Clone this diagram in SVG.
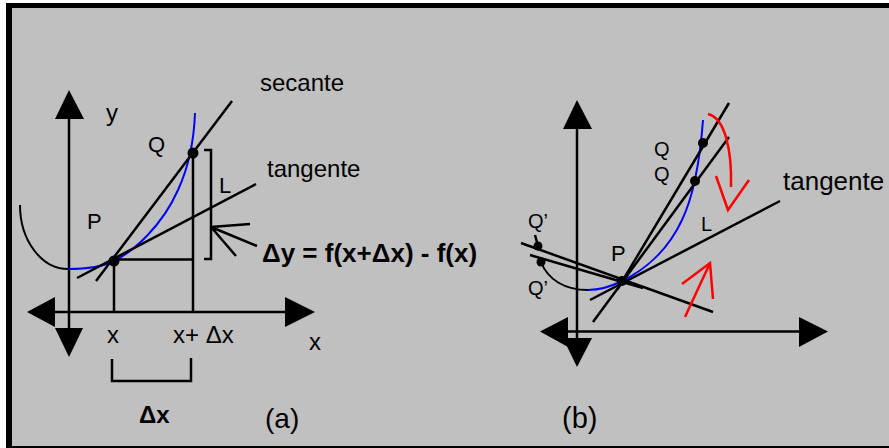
<svg xmlns="http://www.w3.org/2000/svg" width="889" height="448" viewBox="0 0 889 448">
<style>
.ln{fill:none;stroke:#000;stroke-width:2.5;stroke-linecap:butt}
.ax{fill:none;stroke:#000;stroke-width:2.5}
.hd{fill:#000;stroke:none}
.cv{fill:none;stroke:#0000ff;stroke-width:2}
.bk{fill:none;stroke:#000;stroke-width:2}
.rd{fill:none;stroke:#ff0000;stroke-width:2.5;stroke-linecap:butt;stroke-linejoin:miter}
.dot{fill:#000}
.t{font-family:"Liberation Sans",Arial,sans-serif;fill:#000}
.b{font-weight:bold}
</style>
<rect x="0" y="0" width="889" height="448" fill="#fff"/>
<rect x="6" y="3" width="900" height="445" fill="#000"/>
<rect x="12" y="8" width="890" height="438" fill="#c0c0c0"/>

<g id="panel-a">
  <g id="axes-a">
    <line class="ax" x1="69" y1="118" x2="69" y2="330"/>
    <polygon class="hd" points="69,90 55,119 84,119"/>
    <polygon class="hd" points="55,328 83,328 69,357"/>
    <line class="ax" x1="54" y1="312" x2="286" y2="312"/>
    <polygon class="hd" points="27,312 55,297 55,327"/>
    <polygon class="hd" points="315,312 285,297 285,327"/>
  </g>
  <g id="curve-a">
    <path class="bk" d="M20,205 A48,64 0 0 0 68,269"/>
    <path class="cv" d="M68,269 C90,269 104,266 114,261 C134,251 162,226 178,190 C190,164 194,140 195,113"/>
  </g>
  <g id="connectors-a">
    <line class="ln" x1="96" y1="281" x2="232" y2="101"/>
    <line class="ln" x1="77" y1="278" x2="256" y2="184"/>
    <line class="ln" x1="193" y1="153" x2="193" y2="313"/>
    <line class="ln" x1="114" y1="261" x2="114" y2="313"/>
    <line class="ln" x1="114" y1="259.5" x2="194" y2="259.5"/>
    <path class="ln" d="M204,150 H211 V259 H204"/>
    <path class="ln" d="M250,224 L211,227 L257,246 M211,227 L236,256"/>
    <path class="ln" d="M112,359 V381 H191 V358"/>
  </g>
  <g id="node-P-a"><circle class="dot" cx="114" cy="261" r="5.5"/></g>
  <g id="node-Q-a"><circle class="dot" cx="193" cy="153" r="5.5"/></g>
  <g id="labels-a">
    <text class="t" x="260" y="91" font-size="24">secante</text>
    <text class="t" x="267" y="177" font-size="24">tangente</text>
    <text class="t" x="106" y="121" font-size="24">y</text>
    <text class="t" x="148" y="152" font-size="22">Q</text>
    <text class="t" x="219" y="193" font-size="22">L</text>
    <text class="t" x="87" y="229" font-size="22">P</text>
    <text class="t b" x="262" y="262" font-size="26">Δy = f(x+Δx) - f(x)</text>
    <text class="t" x="107" y="343" font-size="24">x</text>
    <text class="t" x="173" y="343" font-size="24">x+ Δx</text>
    <text class="t" x="309" y="350" font-size="24">x</text>
    <text class="t b" x="139" y="423" font-size="24">Δx</text>
    <text class="t" x="265" y="428" font-size="28">(a)</text>
  </g>
</g>

<g id="panel-b">
  <g id="axes-b">
    <line class="ax" x1="577" y1="127" x2="577" y2="340"/>
    <polygon class="hd" points="577,100 563,129 592,129"/>
    <polygon class="hd" points="563,338 592,338 577,367"/>
    <line class="ax" x1="567" y1="331.5" x2="800" y2="331.5"/>
    <polygon class="hd" points="540,331.5 568,317 568,347"/>
    <polygon class="hd" points="828,331.5 799,317 799,347"/>
  </g>
  <g id="curve-b">
    <path class="bk" d="M541,262 C548,280 565,290 588,290"/>
    <path class="cv" d="M588,290 C600,290 612,286 622,281 C645,270 668,250 682,220 C694,195 700,160 703,120"/>
  </g>
  <g id="connectors-b">
    <line class="ln" x1="617" y1="290" x2="729" y2="103"/>
    <line class="ln" x1="593" y1="322" x2="729" y2="137"/>
    <line class="ln" x1="590" y1="300" x2="780" y2="201"/>
    <line class="ln" x1="521" y1="243" x2="713" y2="312"/>
    <line class="ln" x1="530" y1="255" x2="643" y2="288"/>
    <line class="ln" x1="535" y1="235" x2="538" y2="246"/>
  </g>
  <g id="node-P-b"><circle class="dot" cx="622" cy="281" r="5"/></g>
  <g id="node-Q1-b"><circle class="dot" cx="703" cy="143" r="5"/></g>
  <g id="node-Q2-b"><circle class="dot" cx="695" cy="181" r="5"/></g>
  <g id="node-Qp1-b"><circle class="dot" cx="538" cy="246" r="4.5"/></g>
  <g id="node-Qp2-b"><circle class="dot" cx="541" cy="262" r="4.5"/></g>
  <g id="red-arrows">
    <path class="rd" d="M708,114 C725,118 732,150 731,187"/>
    <path class="rd" d="M716,176 L728,210 L749,180"/>
    <path class="rd" d="M685,317 L710,263"/>
    <path class="rd" d="M682,284 L710,263 L713,299"/>
  </g>
  <g id="labels-b">
    <text class="t" x="654" y="156" font-size="20">Q</text>
    <text class="t" x="654" y="181" font-size="20">Q</text>
    <text class="t" x="528" y="228" font-size="20">Q’</text>
    <text class="t" x="528" y="295" font-size="20">Q’</text>
    <text class="t" x="611" y="261" font-size="22">P</text>
    <text class="t" x="701" y="231" font-size="20">L</text>
    <text class="t" x="783" y="190" font-size="26">tangente</text>
    <text class="t" x="562" y="428" font-size="29">(b)</text>
  </g>
</g>
</svg>
